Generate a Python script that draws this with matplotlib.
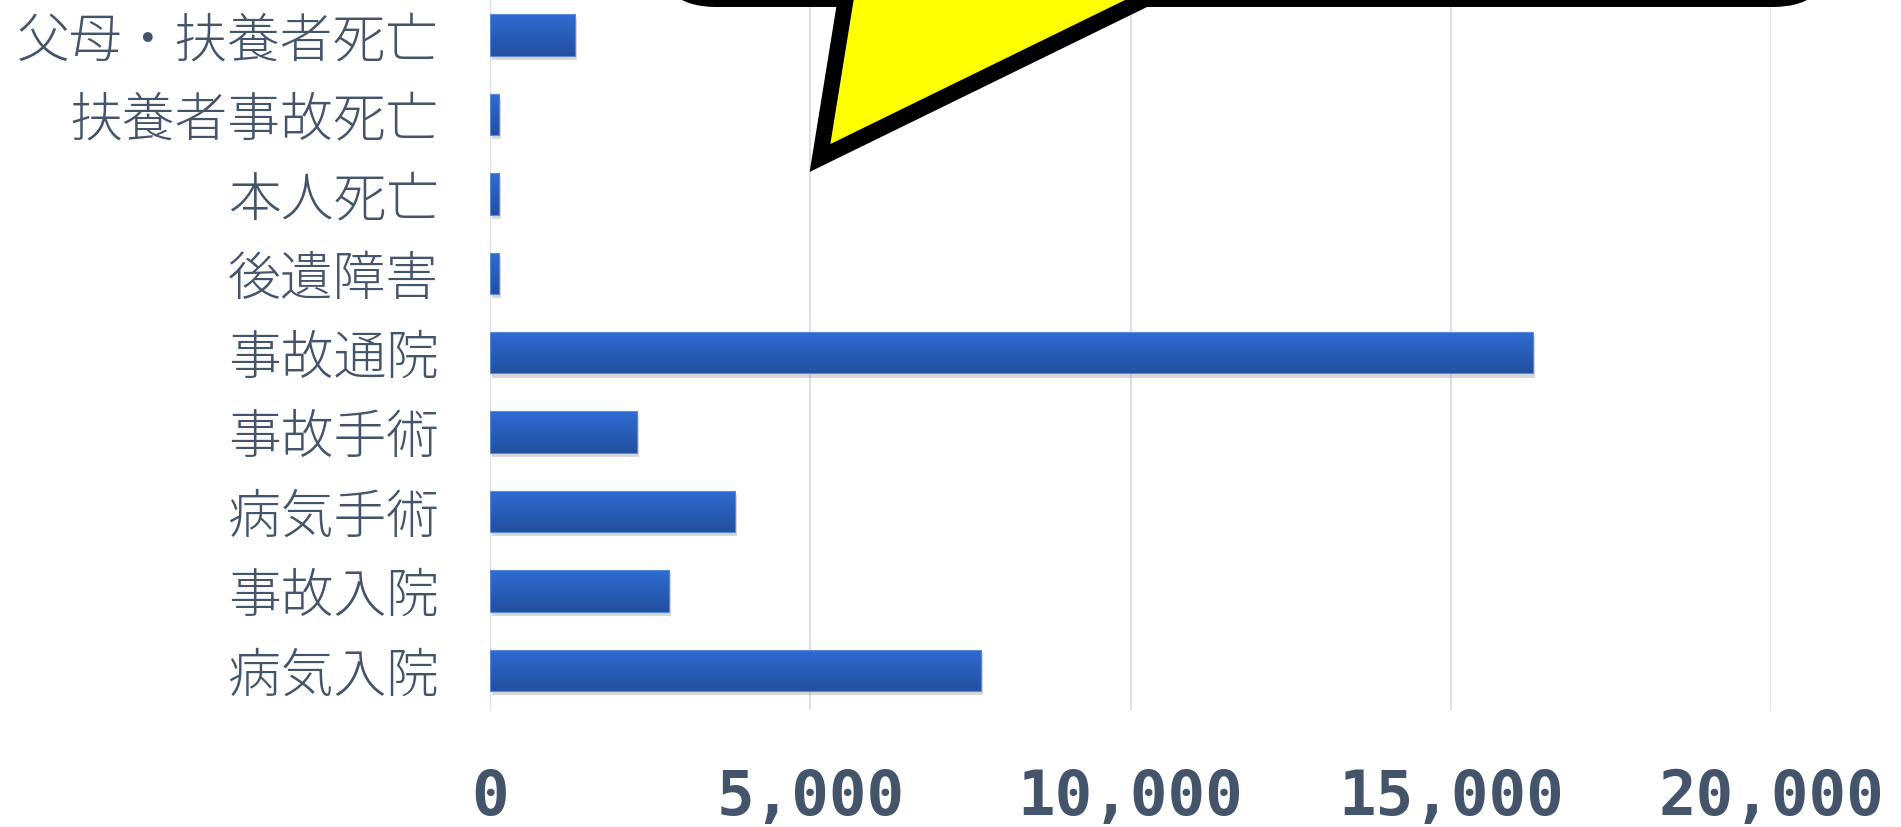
import numpy as np
import matplotlib
matplotlib.use("Agg")
import matplotlib.pyplot as plt
import matplotlib.patheffects as pe
from matplotlib.colors import LinearSegmentedColormap
from matplotlib.patches import FancyBboxPatch, Polygon
from matplotlib.ticker import FuncFormatter
from matplotlib.transforms import Affine2D

# data (bottom to top)
categories = ["病気入院", "事故入院", "病気手術", "事故手術", "事故通院",
              "後遺障害", "本人死亡", "扶養者事故死亡", "父母・扶養者死亡"]
counts = [7670, 2800, 3830, 2300, 16280, 140, 145, 140, 1330]
x_ticks = [0, 5000, 10000, 15000, 20000]

text_color = "#44546A"
grid_color = "#DCE0E8"

W, H = 1901, 827
fig = plt.figure(figsize=(W / 100, H / 100), dpi=100)
ax = fig.add_axes([490 / W, (H - 710) / H, (1771 - 490) / W, 714.6 / H])

y = np.arange(len(categories))
bars = ax.barh(y, counts, height=0.52, color="#2A5DBE", zorder=2,
               path_effects=[pe.SimplePatchShadow(offset=(1.5, -3), shadow_rgbFace="#808080", alpha=0.3),
                             pe.Normal()])

# vertical gradient on each bar
cmap = LinearSegmentedColormap.from_list("barblue", ["#2350A0", "#2E6CD4"])
grad = np.linspace(0, 1, 64).reshape(-1, 1)
for b in bars:
    x0, y0 = b.get_x(), b.get_y()
    im = ax.imshow(grad, extent=[x0, x0 + b.get_width(), y0, y0 + b.get_height()],
                   origin="lower", aspect="auto", cmap=cmap, zorder=2.5)
    im.set_clip_path(b)
ax.barh(y, counts, height=0.52, facecolor="none", edgecolor="#5A88DC", linewidth=0.8, zorder=3)

ax.set_xlim(0, 20000)
ax.set_ylim(-0.5, len(categories) - 0.5)
ax.set_xticks(x_ticks)
ax.xaxis.set_major_formatter(FuncFormatter(lambda v, p: f"{int(v):,}"))
ax.set_yticks(y)
ax.set_yticklabels(categories)
ax.grid(axis="x", color=grid_color, linewidth=1.5, zorder=0)
ax.set_axisbelow(True)
for s in ax.spines.values():
    s.set_visible(False)
ax.tick_params(axis="both", length=0)
ax.tick_params(axis="x", pad=42)
ax.tick_params(axis="y", pad=37)

for lab in ax.get_xticklabels():
    lab.set_fontfamily("DejaVu Sans Mono")
    lab.set_fontweight("bold")
    lab.set_fontsize(45)
    lab.set_color(text_color)
for lab in ax.get_yticklabels():
    lab.set_fontfamily(["Noto Sans CJK JP", "DejaVu Sans"])
    lab.set_fontweight("light")
    lab.set_fontsize(38)
    lab.set_color(text_color)

# callout bubble at the top, in figure pixels (y up)
px = Affine2D().scale(1 / W, 1 / H) + fig.transFigure


def up(y_img):
    return H - y_img


bubble = FancyBboxPatch((661, up(-1)), 1828 - 661, 300,
                        boxstyle="round,pad=0,rounding_size=55",
                        transform=px, facecolor="#FFFF00", edgecolor="black",
                        linewidth=11.5, zorder=10)
fig.patches.append(bubble)
pointer = Polygon([(852, up(-40)), (820, up(158)), (1225, up(-40))], closed=True,
                  transform=px, facecolor="#FFFF00", edgecolor="black",
                  linewidth=11.5, joinstyle="miter", zorder=11)
fig.patches.append(pointer)

fig.savefig("out.png", dpi=100)
